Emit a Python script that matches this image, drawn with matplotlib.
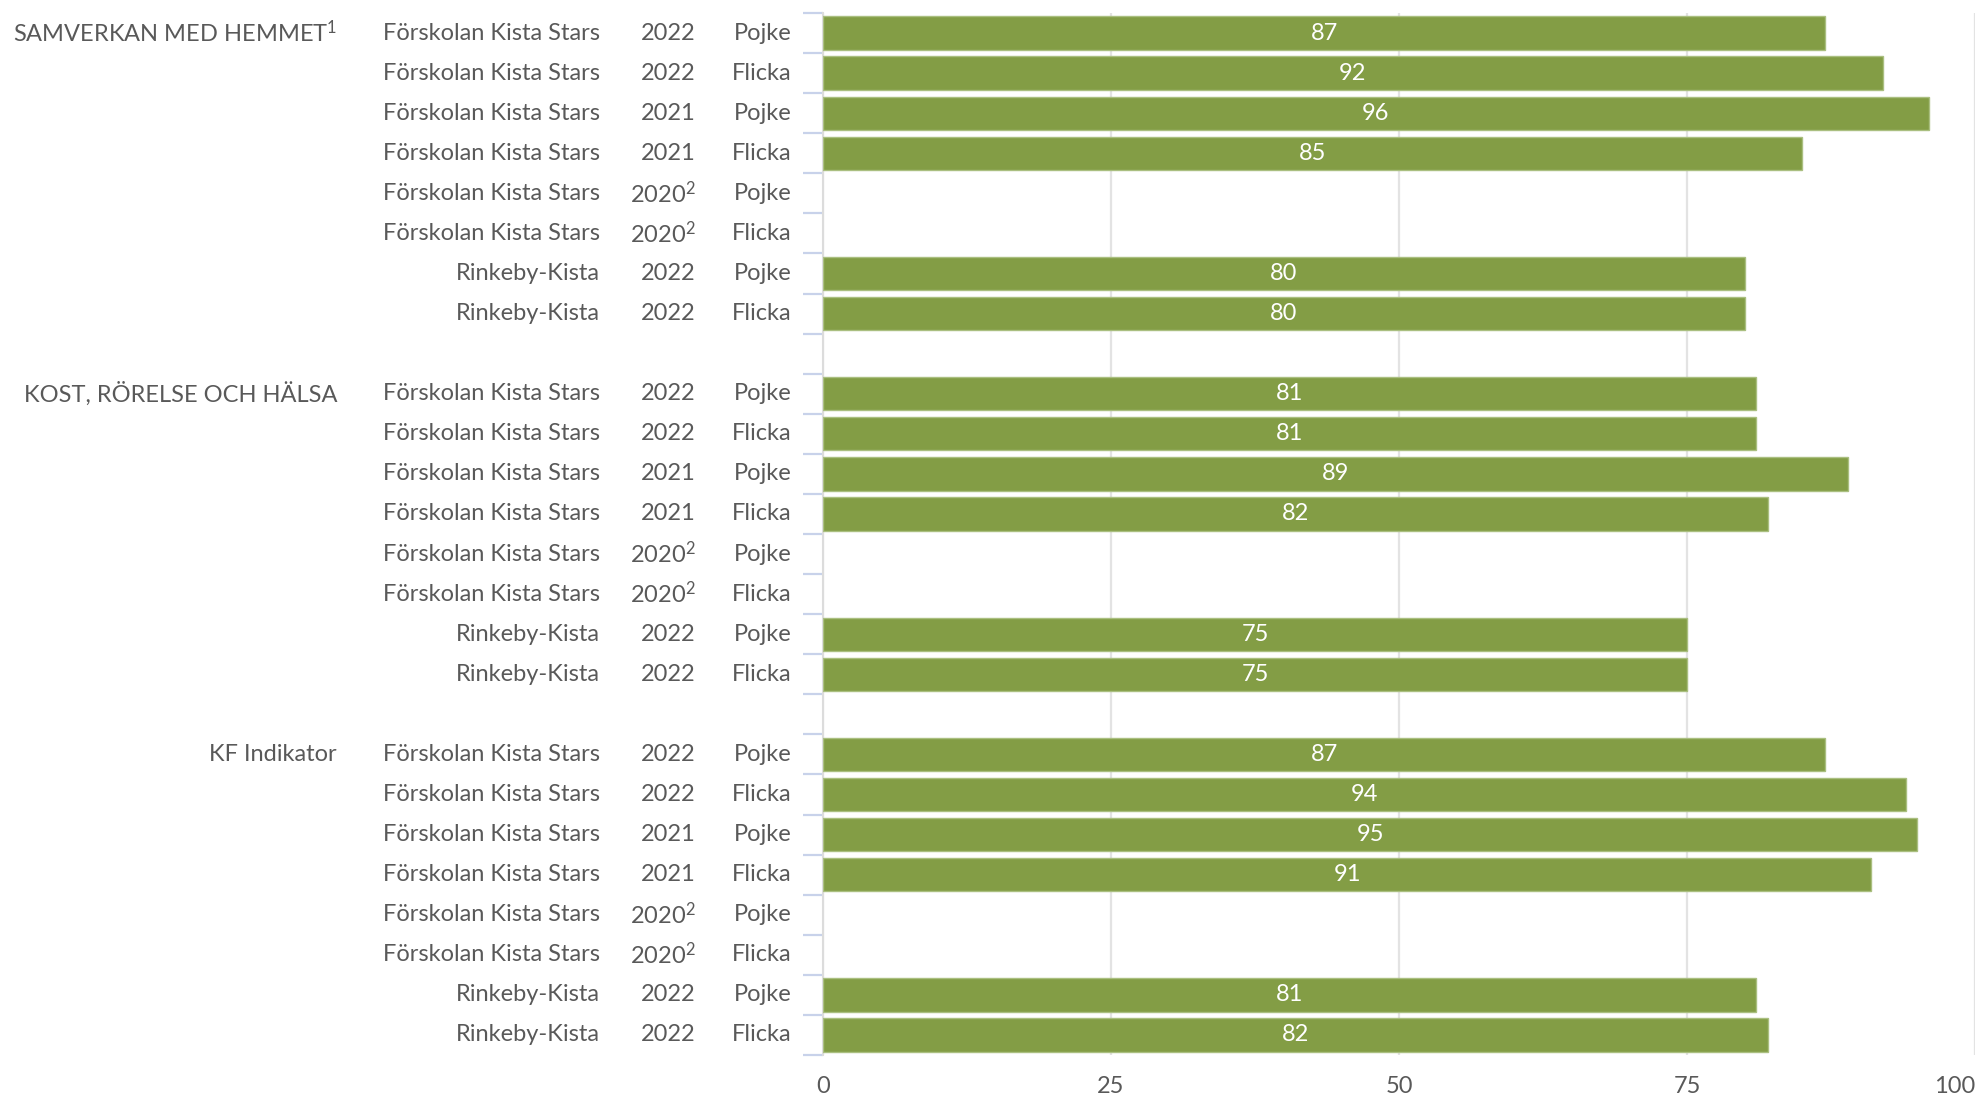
import matplotlib
matplotlib.use('Agg')
import matplotlib.pyplot as plt
import matplotlib.transforms as mtransforms
import numpy as np

plt.rcParams['font.family'] = ['Lato', 'DejaVu Sans']
plt.rcParams['mathtext.fontset'] = 'custom'
plt.rcParams['mathtext.rm'] = 'Lato'
plt.rcParams['mathtext.it'] = 'Lato:italic'
plt.rcParams['mathtext.bf'] = 'Lato:bold'

# data
groups = ['SAMVERKAN MED HEMMET', 'KOST, RÖRELSE OCH HÄLSA', 'KF Indikator']
group_notes = ['1', '', '']
units = ['Förskolan Kista Stars'] * 6 + ['Rinkeby-Kista'] * 2
years = ['2022', '2022', '2021', '2021', '2020', '2020', '2022', '2022']
year_notes = ['', '', '', '', '2', '2', '', '']
genders = ['Pojke', 'Flicka'] * 4
samverkan = [87, 92, 96, 85, np.nan, np.nan, 80, 80]
kost = [81, 81, 89, 82, np.nan, np.nan, 75, 75]
kf_indikator = [87, 94, 95, 91, np.nan, np.nan, 81, 82]
series = [samverkan, kost, kf_indikator]

bar_color = '#839d45'
edge_color = '#aabf80'
text_color = '#595959'
fs = 17

W, H = 1977, 1098
fig = plt.figure(figsize=(W / 100, H / 100), dpi=100)
ax = fig.add_axes([823 / W, 1 - 1055 / H, (1975 - 823) / W, (1055 - 13) / H])

n_rows = len(units)
slot = 0
positions = []
for g, vals in enumerate(series):
    pos = np.arange(slot, slot + n_rows)
    positions.append(pos)
    ax.barh(pos, vals, height=0.83, color=bar_color, edgecolor=edge_color,
            linewidth=1, zorder=3)
    for p, v in zip(pos, vals):
        if not np.isnan(v):
            ax.text(v / 2, p, f'{v:.0f}', color='white', ha='center',
                    va='center', fontsize=fs, zorder=4)
    slot += n_rows + 1

n_slots = slot - 1
ax.set_xlim(0, 100)
ax.set_ylim(n_slots - 0.5, -0.5)

ax.set_xticks([0, 25, 50, 75, 100])
ax.tick_params(axis='x', length=0, pad=15, labelsize=fs, labelcolor=text_color)
ax.get_xticklabels()[-1].set_horizontalalignment('right')
ax.set_yticks(np.arange(-0.5, n_slots, 1.0))
ax.set_yticklabels([])
ax.tick_params(axis='y', length=14.5, width=1.6, color='#c8d2ea')
ax.grid(axis='x', color='#e3e3e3', linewidth=1.6, zorder=0)
ax.set_axisbelow(True)
for s in ['top', 'right', 'bottom']:
    ax.spines[s].set_visible(False)
ax.spines['left'].set_color('#dcdcdc')
ax.spines['left'].set_linewidth(1.5)

# row labels to the left of the axis
tr = mtransforms.blended_transform_factory(fig.transFigure, ax.transData)
for g, pos in enumerate(positions):
    label = groups[g]
    if group_notes[g]:
        label += '$^{' + group_notes[g] + '}$'
    ax.text(337 / W, pos[0], label, transform=tr, ha='right', va='center',
            fontsize=fs, color=text_color)
    for i, p in enumerate(pos):
        ax.text(600 / W, p, units[i], transform=tr, ha='right', va='center',
                fontsize=fs, color=text_color)
        yr = years[i]
        if year_notes[i]:
            yr += '$^{' + year_notes[i] + '}$'
        ax.text(696 / W, p, yr, transform=tr, ha='right', va='center',
                fontsize=fs, color=text_color)
        ax.text(792 / W, p, genders[i], transform=tr, ha='right', va='center',
                fontsize=fs, color=text_color)

plt.savefig('out.png', dpi=100)
plt.close()
